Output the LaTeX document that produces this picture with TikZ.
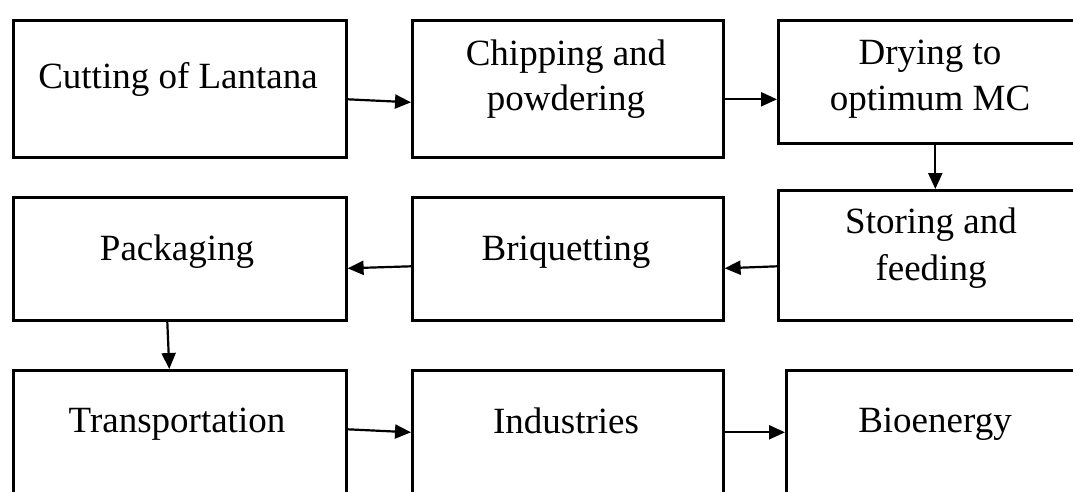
\documentclass[tikz,border=0pt]{standalone}
\usepackage{fontspec}
\setmainfont{Liberation Serif}
\usetikzlibrary{arrows.meta}
\begin{document}
\begin{tikzpicture}[x=1pt,y=-1pt,
  box/.style={draw, line width=2.6pt, rectangle, inner sep=0pt, anchor=north west},
  lbl/.style={anchor=base, inner sep=0pt, font=\fontsize{37}{45}\selectfont},
  flow/.style={line width=2.2pt, -{Triangle[length=16pt,width=14pt]}}]
\useasboundingbox (0,0) rectangle (1073,491);
\clip (0,0) rectangle (1073,491);
% boxes
\node[box, minimum width=333pt, minimum height=137pt] (b1) at (12,19) {};
\node[box, minimum width=311pt, minimum height=137pt] (b2) at (411,19) {};
\node[box, minimum width=320pt, minimum height=123pt] (b3) at (777,19) {};
\node[box, minimum width=333pt, minimum height=123pt] (b4) at (12,196) {};
\node[box, minimum width=311pt, minimum height=123pt] (b5) at (411,196) {};
\node[box, minimum width=320pt, minimum height=130pt] (b6) at (777,189) {};
\node[box, minimum width=333pt, minimum height=140pt] (b7) at (12,369) {};
\node[box, minimum width=311pt, minimum height=140pt] (b8) at (411,369) {};
\node[box, minimum width=320pt, minimum height=140pt] (b9) at (785,369) {};
% labels
\node[lbl] (t1) at (178,88) {Cutting of Lantana};
\node[lbl] (t2a) at (566,65) {Chipping and};
\node[lbl] (t2b) at (566,110) {powdering};
\node[lbl] (t3a) at (930,64) {Drying to};
\node[lbl] (t3b) at (930,110) {optimum MC};
\node[lbl] (t4) at (177,260) {Packaging};
\node[lbl] (t5) at (566,260) {Briquetting};
\node[lbl] (t6a) at (931,233) {Storing and};
\node[lbl] (t6b) at (931,280) {feeding};
\node[lbl] (t7) at (177,432) {Transportation};
\node[lbl] (t8) at (566,433) {Industries};
\node[lbl] (t9) at (935,432) {Bioenergy};
% connectors
\draw[flow] ([yshift=-10.5pt]b1.east) -- ([yshift=-13.5pt]b2.west);
\draw[flow] ([yshift=-10.5pt]b2.east) -- ([yshift=-17.5pt]b3.west);
\draw[flow] ([xshift=-3pt]b3.south) -- ([xshift=-3pt]b6.north);
\draw[flow] ([yshift=-11pt]b6.west) -- ([yshift=-9.5pt]b5.east);
\draw[flow] ([yshift=-7.5pt]b5.west) -- ([yshift=-9.5pt]b4.east);
\draw[flow] ([xshift=-12.5pt]b4.south) -- ([xshift=-10.5pt]b7.north);
\draw[flow] ([yshift=11pt]b7.east) -- ([yshift=8pt]b8.west);
\draw[flow] ([yshift=8pt]b8.east) -- ([yshift=8pt]b9.west);
\end{tikzpicture}
\end{document}
